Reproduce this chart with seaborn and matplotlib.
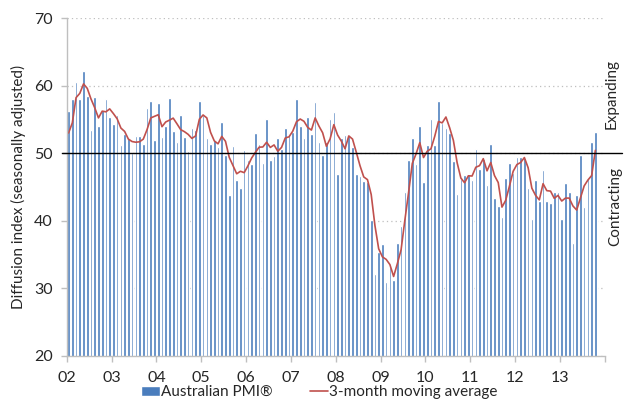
import numpy as np
import pandas as pd
import matplotlib
matplotlib.use("Agg")
import matplotlib.pyplot as plt
import seaborn as sns

# monthly Australian PMI, Jan 2002 .. Oct 2013
pmi_2002_2004 = [56.2, 58.0, 60.5, 58.1, 62.2, 58.5, 53.4, 58.3, 54.0, 56.4, 58.0, 55.3,
                 54.3, 55.7, 51.2, 52.8, 52.3, 50.1, 52.5, 52.5, 51.3, 56.7, 57.7, 52.0,
                 57.4, 52.4, 54.1, 58.2, 53.3, 51.6, 55.6, 52.4, 50.4, 53.8, 53.5, 57.8]
pmi_2005_2007 = [55.7, 52.2, 51.4, 51.9, 50.9, 54.7, 49.7, 43.8, 51.1, 46.0, 44.9, 50.5,
                 49.0, 48.4, 53.0, 51.3, 48.5, 55.1, 49.0, 49.6, 52.3, 50.7, 53.8, 52.8,
                 53.2, 58.0, 54.0, 52.2, 55.3, 52.8, 57.6, 51.7, 49.8, 51.6, 55.0, 56.1]
pmi_2008_2010 = [47.0, 52.3, 52.7, 52.7, 50.9, 46.9, 46.7, 45.9, 45.7, 40.1, 32.1, 35.4,
                 36.5, 31.0, 33.1, 31.2, 36.7, 39.3, 44.2, 49.0, 52.3, 48.4, 54.0, 45.7,
                 51.2, 55.1, 51.2, 57.8, 54.5, 53.8, 53.0, 48.9, 43.9, 46.2, 46.8, 47.0]
pmi_2011_2013 = [46.1, 50.7, 47.7, 49.2, 45.3, 51.4, 43.4, 42.2, 40.5, 46.4, 48.5, 47.1,
                 49.4, 49.4, 49.3, 44.9, 40.3, 46.1, 42.9, 47.5, 43.0, 42.7, 44.3, 44.3,
                 40.2, 45.6, 44.3, 36.7, 43.8, 49.7, 42.0, 46.4, 51.7, 53.2]
# Nov and Dec 2001, only needed to start the moving average
pmi_prior = [53.5, 49.3]

year_labels = ["02", "03", "04", "05", "06", "07", "08", "09", "10", "11", "12", "13"]

pmi = pmi_2002_2004 + pmi_2005_2007 + pmi_2008_2010 + pmi_2011_2013
ma = pd.Series(pmi_prior + pmi).rolling(3).mean().iloc[len(pmi_prior):].to_numpy()

df = pd.DataFrame({"month": np.arange(len(pmi)) + 0.5, "pmi": pmi, "ma": ma})

bar_color = "#4a7dbd"
line_color = "#c0504d"
grey = "#bfbfbf"
text_color = "#262626"

sns.set_style("white")
plt.rcParams["font.family"] = ["Lato", "DejaVu Sans"]

fig = plt.figure(figsize=(6.33, 4.09), dpi=100)
ax = fig.add_axes([0.1054, 0.1296, 0.8499, 0.8261])

sns.barplot(data=df, x="month", y="pmi", native_scale=True, width=0.7,
            color=bar_color, saturation=1, ax=ax, label="Australian PMI®")
sns.lineplot(data=df, x="month", y="ma", color=line_color, linewidth=1.2,
             ax=ax, label="3-month moving average")

ax.set_xlim(0, 12 * len(year_labels))
ax.set_ylim(20, 70)
ax.set_xticks(np.arange(0, 12 * len(year_labels) + 1, 12))
ax.set_xticklabels(year_labels + [""])
ax.set_yticks(np.arange(20, 71, 10))
ax.set_xlabel("")
ax.set_ylabel("Diffusion index (seasonally adjusted)", fontsize=11,
              color=text_color, labelpad=6)

ax.yaxis.grid(True, linestyle=(0, (1, 2.5)), color=grey, linewidth=0.9)
ax.set_axisbelow(True)
ax.axhline(50, xmin=-0.008, xmax=1.032, color="black", linewidth=1.0,
           clip_on=False, zorder=5)

for side in ["top", "right"]:
    ax.spines[side].set_visible(False)
for side in ["left", "bottom"]:
    ax.spines[side].set_color(grey)
    ax.spines[side].set_linewidth(1.0)

ax.tick_params(axis="x", length=4, width=1, color=grey, pad=7,
               labelsize=11.5, labelcolor=text_color, bottom=True)
ax.tick_params(axis="y", length=4, width=1, color=grey, pad=6,
               labelsize=11.5, labelcolor=text_color, left=True)

fig.text(611.5 / 633, 1 - 94 / 409, "Expanding", rotation=90, ha="center",
         va="center", fontsize=11, color=text_color)
fig.text(615.5 / 633, 1 - 207 / 409, "Contracting", rotation=90, ha="center",
         va="center", fontsize=11, color=text_color)

# bars first in the legend, then the line
handles, labels = ax.get_legend_handles_labels()
order = sorted(range(len(labels)), key=lambda i: labels[i] != "Australian PMI®")
ax.get_legend().remove()
fig.legend([handles[i] for i in order], [labels[i] for i in order],
           loc="lower center", bbox_to_anchor=(0.505, -0.01),
           ncol=2, frameon=False, fontsize=11, handlelength=1.2,
           handletextpad=0.1, columnspacing=2.4, labelcolor=text_color)

fig.savefig("out.png", dpi=100)
